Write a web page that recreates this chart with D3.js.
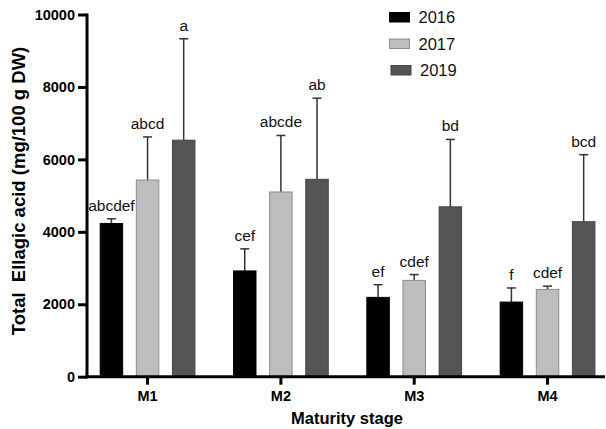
<!DOCTYPE html>
<html>
<head>
<meta charset="utf-8">
<script src="https://cdn.jsdelivr.net/npm/d3@7"></script>
<style>
  body { margin: 0; background: #fff; }
  svg { display: block; font-family: "Liberation Sans", Arial, sans-serif; }
</style>
</head>
<body>
<svg id="chart" width="606" height="429"></svg>
<script>
// data
const stages = ['M1', 'M2', 'M3', 'M4'];
const years = ['2016', '2017', '2019'];
const means = {
  '2016': [4230, 2920, 2190, 2060],
  '2017': [5430, 5100, 2660, 2410],
  '2019': [6530, 5450, 4690, 4280]
};
const errTops = {
  '2016': [4360, 3530, 2540, 2450],
  '2017': [6620, 6660, 2820, 2500],
  '2019': [9330, 7690, 6550, 6130]
};
const letters = {
  '2016': ['abcdef', 'cef', 'ef', 'f'],
  '2017': ['abcd', 'abcde', 'cdef', 'cdef'],
  '2019': ['a', 'ab', 'bd', 'bcd']
};
const yTicks = [0, 2000, 4000, 6000, 8000, 10000];

const fills = { '2016': '#000000', '2017': '#bdbdbd', '2019': '#555555' };
const strokes = { '2016': '#000000', '2017': '#8c8c8c', '2019': '#444444' };

const svg = d3.select('#chart');

// plot box
const plotL = 87, plotR = 605, plotT = 14.5, plotB = 376.7;

const x = d3.scaleBand().domain(stages).range([80.9, 614.2]);
const xi = d3.scaleBand().domain(years).range([-54.2, 54.2])
  .paddingInner(0.35).paddingOuter(0.175);
const y = d3.scaleLinear().domain([0, 10000]).range([plotB, plotT]);

// bars
const rows = [];
years.forEach(function (yr) {
  stages.forEach(function (s, i) {
    rows.push({ year: yr, stage: s, v: means[yr][i], e: errTops[yr][i], lab: letters[yr][i] });
  });
});

const cx = d => x(d.stage) + x.bandwidth() / 2 + xi(d.year) + xi.bandwidth() / 2;

// error bars (upper only)
const eb = svg.append('g');
eb.selectAll('line.v').data(rows).enter().append('line')
  .attr('x1', cx).attr('x2', cx)
  .attr('y1', d => y(d.v)).attr('y2', d => y(d.e))
  .attr('stroke', '#333').attr('stroke-width', 1.5);
eb.selectAll('line.c').data(rows).enter().append('line')
  .attr('x1', d => cx(d) - 4.5).attr('x2', d => cx(d) + 4.5)
  .attr('y1', d => y(d.e)).attr('y2', d => y(d.e))
  .attr('stroke', '#333').attr('stroke-width', 1.5);

svg.append('g').selectAll('rect').data(rows).enter().append('rect')
  .attr('x', d => cx(d) - xi.bandwidth() / 2 + 0.5)
  .attr('y', d => y(d.v))
  .attr('width', xi.bandwidth() - 1)
  .attr('height', d => y(0) - y(d.v))
  .attr('fill', d => fills[d.year])
  .attr('stroke', d => strokes[d.year])
  .attr('stroke-width', 1);

// significance letters
svg.append('g').selectAll('text').data(rows).enter().append('text')
  .attr('x', cx)
  .attr('y', d => y(d.e) - 8)
  .attr('text-anchor', 'middle')
  .attr('font-size', '15.5px')
  .attr('fill', '#111')
  .text(d => d.lab);

// Y axis
const yAxis = svg.append('g')
  .attr('transform', 'translate(' + plotL + ',0)')
  .call(d3.axisLeft(y).tickValues(yTicks).tickSize(9).tickPadding(3).tickFormat(d3.format('d')));
yAxis.select('.domain').attr('stroke-width', 3).attr('d', 'M0,' + (plotT - 1) + 'V' + (plotB + 1.5));
yAxis.selectAll('.tick line').attr('stroke-width', 3);
yAxis.selectAll('.tick text').attr('font-size', '14.5px').attr('font-weight', 'bold').attr('fill', '#000')
  .attr('font-family', '"Liberation Sans", Arial, sans-serif');

// X axis
const xAxis = svg.append('g')
  .attr('transform', 'translate(0,' + plotB + ')')
  .call(d3.axisBottom(x).tickSize(8).tickPadding(6));
xAxis.select('.domain').attr('stroke-width', 3).attr('d', 'M' + (plotL - 1.5) + ',0H' + plotR);
xAxis.selectAll('.tick line').attr('stroke-width', 3);
xAxis.selectAll('.tick text').attr('font-size', '14.5px').attr('font-weight', 'bold').attr('fill', '#000')
  .attr('font-family', '"Liberation Sans", Arial, sans-serif');

// axis titles
svg.append('text')
  .attr('x', 347).attr('y', 424)
  .attr('text-anchor', 'middle')
  .attr('font-size', '16.5px').attr('font-weight', 'bold')
  .text('Maturity stage');

svg.append('text')
  .attr('transform', 'translate(25,191) rotate(-90)')
  .attr('text-anchor', 'middle')
  .attr('font-size', '18.5px').attr('font-weight', 'bold')
  .style('white-space', 'pre')
  .text('Total  Ellagic acid (mg/100 g DW)');

// legend
const lg = svg.append('g').selectAll('g').data(years).enter().append('g')
  .attr('transform', (d, i) => 'translate(' + (389.5 + (i === 2 ? 1.5 : 0)) + ',' + (12.5 + i * 26.5) + ')');
lg.append('rect')
  .attr('width', 20).attr('height', 9.5)
  .attr('fill', d => fills[d]).attr('stroke', d => strokes[d]).attr('stroke-width', 1);
lg.append('text')
  .attr('x', 29).attr('y', 10.5)
  .attr('font-size', '16.5px')
  .attr('fill', '#111')
  .text(d => d);
</script>
</body>
</html>
